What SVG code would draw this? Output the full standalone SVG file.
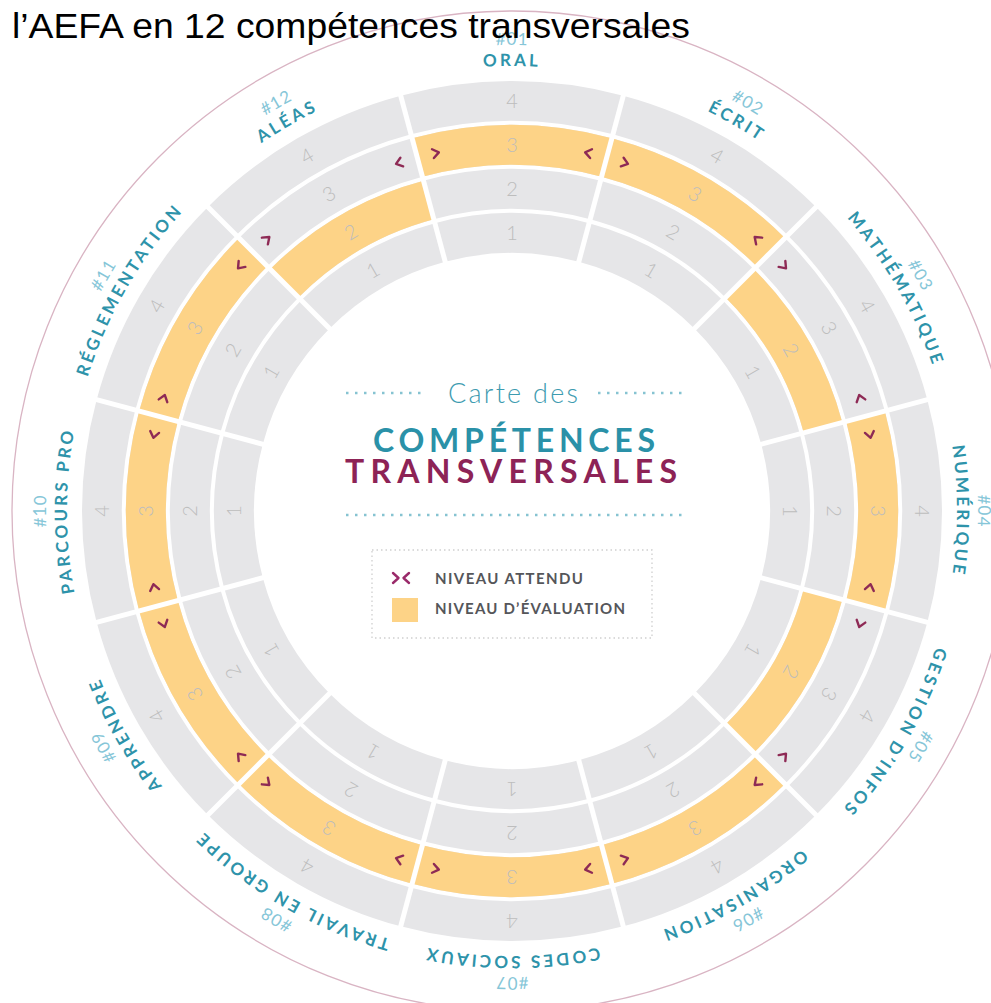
<svg xmlns="http://www.w3.org/2000/svg" xmlns:xlink="http://www.w3.org/1999/xlink" width="991" height="1003" viewBox="0 0 991 1003">
<style>
.ring{fill:none;stroke:#e6e6e8}
.r1{stroke-width:40px;stroke-dasharray:145.56 1601.17}
.r2{stroke-width:40px;stroke-dasharray:168.60 1854.59}
.r3{stroke-width:40px;stroke-dasharray:191.64 2108.01}
.r4{stroke-width:40px;stroke-dasharray:214.68 2361.43}
.ev{stroke:#fdd387}
.dg{font-family:Lato,"Open Sans",sans-serif;font-weight:300;font-size:20px;fill:#bdbdbd;text-anchor:middle}
.mk{fill:none;stroke:#8e2a55;stroke-width:2.4px;stroke-linecap:round;stroke-linejoin:round}
.nm{font-family:Lato,"Open Sans",sans-serif;font-weight:700;font-size:17px;letter-spacing:3px;fill:#2e93aa;text-anchor:middle}
.nb{font-family:Lato,"Open Sans",sans-serif;font-weight:400;font-size:17px;letter-spacing:1px;fill:#86c6d8;text-anchor:middle}
.sep line{stroke:#fff;stroke-width:5px}
.dots{stroke:#86c3d1;stroke-width:2.5px;stroke-dasharray:2.5 6.5;fill:none}
.leg{font-family:Lato,"Open Sans",sans-serif;font-weight:700;font-size:15px;fill:#55565a}
</style>
<defs>
<path id="arcName" d="M 225.96 170.11 A 445 445 0 0 1 798.04 170.11" fill="none"/>
<path id="arcNum" d="M 212.46 154.02 A 466 466 0 0 1 811.54 154.02" fill="none"/>
<g id="rings"><circle class="ring r1" cx="512" cy="511" r="278"/><circle class="ring r2" cx="512" cy="511" r="322"/><circle class="ring r3" cx="512" cy="511" r="366"/><circle class="ring r4" cx="512" cy="511" r="410"/></g>
<g id="digits"><text class="dg" x="512" y="240">1</text><text class="dg" x="512" y="196">2</text><text class="dg" x="512" y="152">3</text><text class="dg" x="512" y="108">4</text></g>
<g id="marks"><polyline class="mk" points="509,140.5 515,145 509,149.5" transform="rotate(-12 512 511)"/><polyline class="mk" points="515,140.5 509,145 515,149.5" transform="rotate(12 512 511)"/></g>
</defs>
<rect width="991" height="1003" fill="#fff"/>
<circle cx="512" cy="511" r="500" fill="none" stroke="#d9b4c3" stroke-width="1.3"/>

<g id="seg01" transform="rotate(0 512 511)">
<g transform="rotate(-105 512 511)"><use href="#rings"/><circle class="ring r3 ev" cx="512" cy="511" r="366"/></g>
<use href="#digits"/><use href="#marks"/>
<text class="nm"><textPath href="#arcName" startOffset="50%">ORAL</textPath></text>
<text class="nb"><textPath href="#arcNum" startOffset="50%">#01</textPath></text>
</g>
<g id="seg02" transform="rotate(30 512 511)">
<g transform="rotate(-105 512 511)"><use href="#rings"/><circle class="ring r3 ev" cx="512" cy="511" r="366"/></g>
<use href="#digits"/><use href="#marks"/>
<text class="nm"><textPath href="#arcName" startOffset="50%">ÉCRIT</textPath></text>
<text class="nb"><textPath href="#arcNum" startOffset="50%">#02</textPath></text>
</g>
<g id="seg03" transform="rotate(60 512 511)">
<g transform="rotate(-105 512 511)"><use href="#rings"/><circle class="ring r2 ev" cx="512" cy="511" r="322"/></g>
<use href="#digits"/><use href="#marks"/>
<text class="nm"><textPath href="#arcName" startOffset="50%">MATHÉMATIQUE</textPath></text>
<text class="nb"><textPath href="#arcNum" startOffset="50%">#03</textPath></text>
</g>
<g id="seg04" transform="rotate(90 512 511)">
<g transform="rotate(-105 512 511)"><use href="#rings"/><circle class="ring r3 ev" cx="512" cy="511" r="366"/></g>
<use href="#digits"/><use href="#marks"/>
<text class="nm"><textPath href="#arcName" startOffset="50%">NUMÉRIQUE</textPath></text>
<text class="nb"><textPath href="#arcNum" startOffset="50%">#04</textPath></text>
</g>
<g id="seg05" transform="rotate(120 512 511)">
<g transform="rotate(-105 512 511)"><use href="#rings"/><circle class="ring r2 ev" cx="512" cy="511" r="322"/></g>
<use href="#digits"/><use href="#marks"/>
<text class="nm"><textPath href="#arcName" startOffset="50%">GESTION D’INFOS</textPath></text>
<text class="nb"><textPath href="#arcNum" startOffset="50%">#05</textPath></text>
</g>
<g id="seg06" transform="rotate(150 512 511)">
<g transform="rotate(-105 512 511)"><use href="#rings"/><circle class="ring r3 ev" cx="512" cy="511" r="366"/></g>
<use href="#digits"/><use href="#marks"/>
<text class="nm"><textPath href="#arcName" startOffset="50%">ORGANISATION</textPath></text>
<text class="nb"><textPath href="#arcNum" startOffset="50%">#06</textPath></text>
</g>
<g id="seg07" transform="rotate(180 512 511)">
<g transform="rotate(-105 512 511)"><use href="#rings"/><circle class="ring r3 ev" cx="512" cy="511" r="366"/></g>
<use href="#digits"/><use href="#marks"/>
<text class="nm"><textPath href="#arcName" startOffset="50%">CODES SOCIAUX</textPath></text>
<text class="nb"><textPath href="#arcNum" startOffset="50%">#07</textPath></text>
</g>
<g id="seg08" transform="rotate(210 512 511)">
<g transform="rotate(-105 512 511)"><use href="#rings"/><circle class="ring r3 ev" cx="512" cy="511" r="366"/></g>
<use href="#digits"/><use href="#marks"/>
<text class="nm"><textPath href="#arcName" startOffset="50%">TRAVAIL EN GROUPE</textPath></text>
<text class="nb"><textPath href="#arcNum" startOffset="50%">#08</textPath></text>
</g>
<g id="seg09" transform="rotate(240 512 511)">
<g transform="rotate(-105 512 511)"><use href="#rings"/><circle class="ring r3 ev" cx="512" cy="511" r="366"/></g>
<use href="#digits"/><use href="#marks"/>
<text class="nm"><textPath href="#arcName" startOffset="50%">APPRENDRE</textPath></text>
<text class="nb"><textPath href="#arcNum" startOffset="50%">#09</textPath></text>
</g>
<g id="seg10" transform="rotate(270 512 511)">
<g transform="rotate(-105 512 511)"><use href="#rings"/><circle class="ring r3 ev" cx="512" cy="511" r="366"/></g>
<use href="#digits"/><use href="#marks"/>
<text class="nm"><textPath href="#arcName" startOffset="50%">PARCOURS PRO</textPath></text>
<text class="nb"><textPath href="#arcNum" startOffset="50%">#10</textPath></text>
</g>
<g id="seg11" transform="rotate(300 512 511)">
<g transform="rotate(-105 512 511)"><use href="#rings"/><circle class="ring r3 ev" cx="512" cy="511" r="366"/></g>
<use href="#digits"/><use href="#marks"/>
<text class="nm"><textPath href="#arcName" startOffset="50%">RÉGLEMENTATION</textPath></text>
<text class="nb"><textPath href="#arcNum" startOffset="50%">#11</textPath></text>
</g>
<g id="seg12" transform="rotate(330 512 511)">
<g transform="rotate(-105 512 511)"><use href="#rings"/><circle class="ring r2 ev" cx="512" cy="511" r="322"/></g>
<use href="#digits"/><use href="#marks"/>
<text class="nm"><textPath href="#arcName" startOffset="50%">ALÉAS</textPath></text>
<text class="nb"><textPath href="#arcNum" startOffset="50%">#12</textPath></text>
</g>

<g id="separators" class="sep">
<line x1="512" y1="261" x2="512" y2="76" transform="rotate(15 512 511)"/>
<line x1="512" y1="261" x2="512" y2="76" transform="rotate(45 512 511)"/>
<line x1="512" y1="261" x2="512" y2="76" transform="rotate(75 512 511)"/>
<line x1="512" y1="261" x2="512" y2="76" transform="rotate(105 512 511)"/>
<line x1="512" y1="261" x2="512" y2="76" transform="rotate(135 512 511)"/>
<line x1="512" y1="261" x2="512" y2="76" transform="rotate(165 512 511)"/>
<line x1="512" y1="261" x2="512" y2="76" transform="rotate(195 512 511)"/>
<line x1="512" y1="261" x2="512" y2="76" transform="rotate(225 512 511)"/>
<line x1="512" y1="261" x2="512" y2="76" transform="rotate(255 512 511)"/>
<line x1="512" y1="261" x2="512" y2="76" transform="rotate(285 512 511)"/>
<line x1="512" y1="261" x2="512" y2="76" transform="rotate(315 512 511)"/>
<line x1="512" y1="261" x2="512" y2="76" transform="rotate(345 512 511)"/>
</g>

<g id="center-title">
<line class="dots" x1="346" y1="393" x2="424" y2="393"/>
<line class="dots" x1="598" y1="393" x2="682" y2="393"/>
<text x="513" y="403" font-family="Lato, 'Open Sans', sans-serif" font-weight="300" font-size="27" fill="#3d9bb0" text-anchor="middle" textLength="130" lengthAdjust="spacing">Carte des</text>
<text x="373" y="452" font-family="Lato, 'Open Sans', sans-serif" font-weight="700" font-size="32" fill="#2a91a8" textLength="282" lengthAdjust="spacing">COMPÉTENCES</text>
<text x="345" y="483" font-family="Lato, 'Open Sans', sans-serif" font-weight="700" font-size="32" fill="#8d2356" textLength="332" lengthAdjust="spacing">TRANSVERSALES</text>
<line class="dots" x1="346" y1="515" x2="682" y2="515"/>
</g>

<g id="legend">
<rect x="372" y="550" width="280" height="88" fill="none" stroke="#cfcfcf" stroke-width="1.3" stroke-dasharray="1.5 3"/>
<polyline class="mk" points="393,573 398.5,578 393,583" style="stroke:#9a2a6a"/>
<polyline class="mk" points="409,573 403.5,578 409,583" style="stroke:#9a2a6a"/>
<text class="leg" x="435" y="584" textLength="148" lengthAdjust="spacing">NIVEAU ATTENDU</text>
<rect x="392" y="598" width="26" height="24" fill="#fdd387"/>
<text class="leg" x="435" y="614" textLength="190" lengthAdjust="spacing">NIVEAU D’ÉVALUATION</text>
</g>

<text id="title" x="12" y="38" font-family="'Liberation Sans', Arial, sans-serif" font-size="35" fill="#000" textLength="678" lengthAdjust="spacingAndGlyphs">l’AEFA en 12 compétences transversales</text>
</svg>
